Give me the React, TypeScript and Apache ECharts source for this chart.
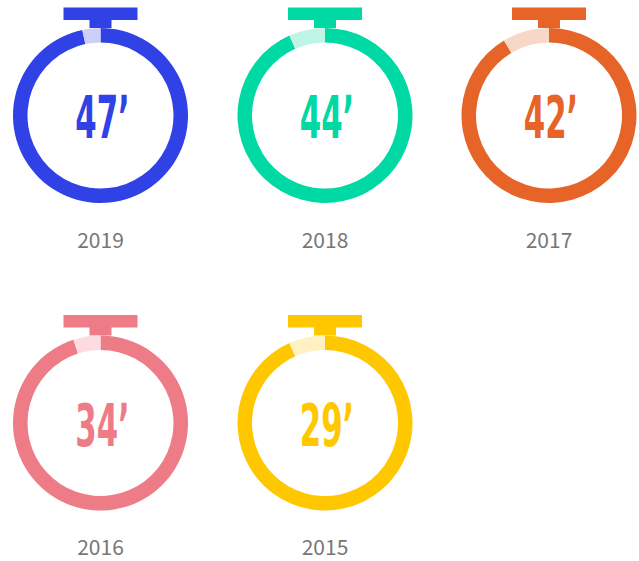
import React, { useEffect, useRef } from 'react';
import * as echarts from 'echarts';

const years = ['2019', '2018', '2017', '2016', '2015'];
const minutes = [47, 44, 42, 34, 29];
// angular size (degrees) of the pale segment left of 12 o'clock
const paleArcDeg = [12, 24, 31, 18, 24];
const colors = ['#3042E6', '#00D9A3', '#E66427', '#EE7C87', '#FFC700'];
const paleColors = ['#CCD0F8', '#BFF5E6', '#F9D7C7', '#FCDCE1', '#FFF1C1'];

const COLS = [100.5, 325, 549];
const ROWS = [115.5, 423];
const R_OUT = 87.5;
const R_IN = 73;

export default function App() {
  const ref = useRef<HTMLDivElement>(null);
  useEffect(() => {
    if (!ref.current) return;
    const chart = echarts.init(ref.current, null, { renderer: 'svg' });
    const series: any[] = [];
    const graphic: any[] = [];
    years.forEach((yr, i) => {
      const cx = COLS[i % 3];
      const cy = ROWS[Math.floor(i / 3)];
      series.push({
        type: 'pie',
        silent: true,
        radius: [R_IN, R_OUT],
        center: [cx, cy],
        startAngle: 90,
        clockwise: true,
        label: { show: false },
        labelLine: { show: false },
        emphasis: { disabled: true },
        data: [
          { value: 360 - paleArcDeg[i], itemStyle: { color: colors[i] } },
          { value: paleArcDeg[i], itemStyle: { color: paleColors[i] } },
        ],
      });
      graphic.push(
        {
          type: 'rect',
          shape: { x: cx - 37, y: cy - 108, width: 74, height: 12.4 },
          style: { fill: colors[i] },
          silent: true,
        },
        {
          type: 'rect',
          shape: { x: cx - 11, y: cy - 96, width: 22, height: 8.5 },
          style: { fill: colors[i] },
          silent: true,
        },
        {
          type: 'text',
          x: cx + 2,
          y: cy + 2,
          scaleX: 0.58,
          silent: true,
          style: {
            text: `${minutes[i]}\u2019`,
            fill: colors[i],
            fontSize: 59,
            fontWeight: 'bold',
            fontFamily: '"DejaVu Sans Condensed", "DejaVu Sans"',
            align: 'center',
            verticalAlign: 'middle',
            textAlign: 'center',
            textVerticalAlign: 'middle',
          },
        },
        {
          type: 'text',
          x: cx,
          y: cy + 123,
          silent: true,
          style: {
            text: yr,
            fill: '#777777',
            fontSize: 21,
            fontFamily: '"Noto Sans CJK SC", "Noto Sans", sans-serif',
            align: 'center',
            verticalAlign: 'middle',
            textAlign: 'center',
            textVerticalAlign: 'middle',
          },
        }
      );
    });
    chart.setOption({
      animation: false,
      backgroundColor: '#ffffff',
      series,
      graphic,
    });
    return () => chart.dispose();
  }, []);
  return (
    <div
      ref={ref}
      style={{ position: 'fixed', left: 0, top: 0, width: 639, height: 561 }}
    />
  );
}
